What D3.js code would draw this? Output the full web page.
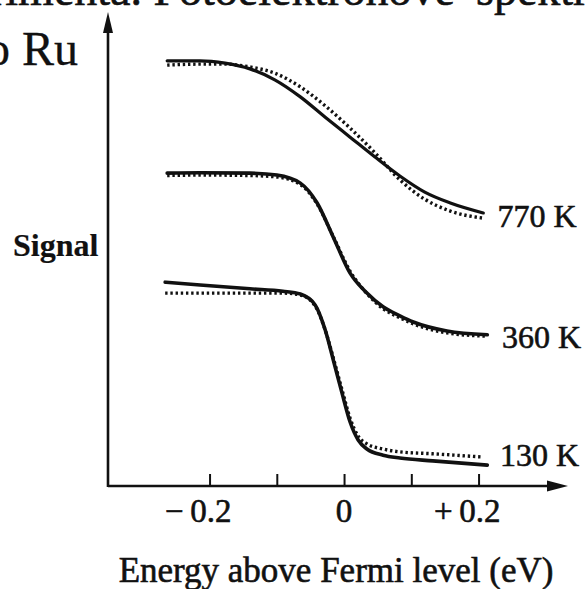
<!DOCTYPE html>
<html>
<head>
<meta charset="utf-8">
<script src="https://cdn.jsdelivr.net/npm/d3@7"></script>
<style>
  html, body { margin: 0; padding: 0; background: #fff; }
  svg { display: block; }
  text { font-family: "Liberation Serif", "DejaVu Serif", serif; fill: #111; stroke: #111; stroke-width: 0.6px; }
</style>
</head>
<body>
<svg id="chart" width="586" height="589"></svg>
<script>
// ---- data (energy in eV, signal in arbitrary units 0..100) ----
const seriesNames = ["770 K", "360 K", "130 K"];

const e770 = [-0.263, -0.214, -0.177, -0.140, -0.103, -0.065, -0.028, 0.009, 0.046, 0.083, 0.120, 0.158, 0.207];
const fit770 = [89.7, 89.7, 89.2, 88.0, 85.7, 82.1, 77.8, 73.6, 69.4, 65.4, 62.0, 59.7, 57.6];
const exp770 = [88.8, 89.0, 89.0, 88.4, 87.1, 84.2, 80.2, 75.5, 70.3, 64.6, 60.5, 58.0, 56.5];

const e360 = [-0.263, -0.214, -0.140, -0.100, -0.065, -0.040, -0.016, 0.009, 0.034, 0.058, 0.083, 0.103, 0.153, 0.213];
const fit360 = [66.0, 66.1, 66.0, 65.6, 63.9, 59.7, 52.5, 44.9, 40.7, 37.8, 35.9, 34.6, 32.7, 31.9];
const exp360 = [65.5, 65.6, 65.5, 65.2, 63.6, 59.5, 52.6, 45.3, 40.6, 37.4, 35.5, 34.2, 32.3, 31.6];

const e130 = [-0.266, -0.214, -0.140, -0.091, -0.065, -0.043, -0.028, -0.016, -0.003, 0.009, 0.021, 0.034, 0.058, 0.083, 0.132, 0.213];
const fit130 = [43.0, 42.4, 41.6, 41.1, 40.5, 38.2, 32.9, 26.6, 19.6, 13.5, 9.7, 7.8, 6.5, 5.9, 5.3, 4.4];
const e130exp = [-0.266, -0.214, -0.140, -0.091, -0.065, -0.043, -0.028, -0.016, -0.003, 0.009, 0.021, 0.034, 0.058, 0.083, 0.132, 0.207];
const exp130 = [40.7, 40.7, 40.7, 40.7, 40.3, 38.0, 32.9, 27.0, 20.3, 14.3, 10.5, 8.9, 7.8, 7.2, 6.8, 6.1];

const tickValues = [-0.2, -0.1, 0, 0.1, 0.2];
const tickLabels = { "-0.2": "\u2212\u20090.2", "0": "0", "0.2": "+\u20090.2" };

const xTitle = "Energy above Fermi level (eV)";
const yTitle = "Signal";

// ---- layout ----
const svg = d3.select("#chart");
const x = d3.scaleLinear().domain([-0.351, 0.333]).range([108, 568]);
const y = d3.scaleLinear().domain([0, 100]).range([486, 12]);

const series = [
  { name: seriesNames[0], e: e770, fit: fit770, ee: e770, exp: exp770, lx: 0.228, ly: 54.6, w: 3.2 },
  { name: seriesNames[1], e: e360, fit: fit360, ee: e360, exp: exp360, lx: 0.235, ly: 29.1, w: 3.6 },
  { name: seriesNames[2], e: e130, fit: fit130, ee: e130exp, exp: exp130, lx: 0.232, ly: 4.2, w: 3.6 }
];

// background page text fragments (cropped book text)
svg.append("text").attr("x", -10).attr("y", 5)
  .style("font-size", "46px").text("rimenta. Fotoelektronové");
svg.append("text").attr("x", 476).attr("y", 5)
  .style("font-size", "46px").text("spektrá");
svg.append("text").attr("x", -14).attr("y", 65)
  .style("font-size", "48px").style("stroke-width", "0.3px").text("o Ru");

// axes
const xAxis = d3.axisBottom(x).tickValues(tickValues).tickSize(-12).tickFormat("");
const gx = svg.append("g").attr("transform", `translate(0,${y(0)})`).call(xAxis);
gx.select(".domain").remove();
gx.selectAll(".tick line").attr("stroke", "#111").attr("stroke-width", 2);

svg.append("line")
  .attr("x1", x.range()[0]).attr("x2", x.range()[1] - 12)
  .attr("y1", y(0)).attr("y2", y(0))
  .attr("stroke", "#111").attr("stroke-width", 2.6);
svg.append("line")
  .attr("x1", x.range()[0]).attr("x2", x.range()[0])
  .attr("y1", y(0) + 1).attr("y2", y.range()[1] + 12)
  .attr("stroke", "#111").attr("stroke-width", 2.6);

// arrowheads
const xr = x.range()[1], y0 = y(0), x0 = x.range()[0], yt = y.range()[1];
svg.append("path")
  .attr("d", `M${xr},${y0} L${xr - 21},${y0 - 5.5} L${xr - 21},${y0 + 5.5} Z`)
  .attr("fill", "#111");
svg.append("path")
  .attr("d", `M${x0},${yt} L${x0 - 5},${yt + 21} L${x0 + 5},${yt + 21} Z`)
  .attr("fill", "#111");

// tick labels
tickValues.forEach(v => {
  const key = String(v);
  if (!(key in tickLabels)) return;
  const t = svg.append("text")
    .attr("y", y0 + 36)
    .style("font-size", "33px")
    .text(tickLabels[key]);
  if (v === 0) t.attr("x", x(v)).attr("text-anchor", "middle");
  else t.attr("x", x(v) + 22).attr("text-anchor", "end");
});

// axis titles
svg.append("text").attr("x", 336).attr("y", 582)
  .attr("text-anchor", "middle").style("font-size", "35px").text(xTitle);
svg.append("text").attr("x", 13).attr("y", 256)
  .style("font-size", "32px").style("font-weight", "bold").style("stroke-width", "0.2px").text(yTitle);

// curves
const line = d3.line().curve(d3.curveMonotoneX);
series.forEach(s => {
  svg.append("path")
    .attr("d", line(s.e.map((v, i) => [x(v), y(s.fit[i])])))
    .attr("fill", "none").attr("stroke", "#111")
    .attr("stroke-width", s.w).attr("stroke-linecap", "round");
  svg.append("path")
    .attr("d", line(s.ee.map((v, i) => [x(v), y(s.exp[i])])))
    .attr("fill", "none").attr("stroke", "#111")
    .attr("stroke-width", 3.4).attr("stroke-dasharray", "2.4,2.8");
  svg.append("text")
    .attr("x", x(s.lx)).attr("y", y(s.ly))
    .style("font-size", "32px").text(s.name);
});
</script>
</body>
</html>
